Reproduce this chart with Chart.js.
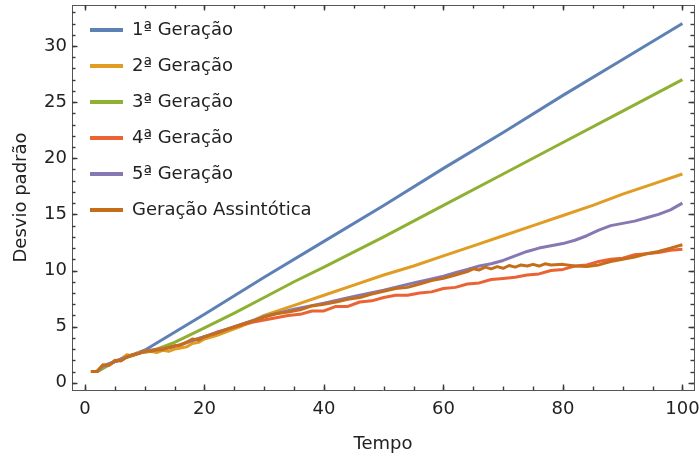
<!DOCTYPE html>
<html>
<head>
<meta charset="utf-8">
<script src="https://cdn.jsdelivr.net/npm/chart.js@4"></script>
<style>
  body { margin: 0; background: #fff; }
  #wrap { width: 699px; height: 460px; }
</style>
</head>
<body>
<div id="wrap"><canvas id="chart"></canvas></div>
<script>
// data
const nomes = ["1ª Geração", "2ª Geração", "3ª Geração", "4ª Geração", "5ª Geração", "Geração Assintótica"];
const cores = ["#5E81B5", "#E19C24", "#8FB032", "#EB6235", "#8778B3", "#C56E1A"];

const tempo1 = [1, 2, 5, 10, 15, 20, 30, 40, 50, 60, 70, 80, 90, 100];
const desvio1 = [1.0, 1.0, 1.9, 2.9, 4.5, 6.1, 9.4, 12.6, 15.8, 19.1, 22.3, 25.6, 28.8, 32.0];

const tempo2 = [1, 2, 3, 4, 5, 6, 7, 8, 9, 10, 11, 12, 13, 14, 15, 16, 17, 18, 19, 20,
  22, 24, 26, 28, 30, 35, 40, 45, 50, 55, 60, 65, 70, 75, 80, 85, 90, 95, 100];
const desvio2 = [1.0, 1.0, 1.5, 1.6, 1.9, 2.1, 2.5, 2.4, 2.7, 2.7, 2.8, 2.7, 2.9, 2.8, 3.0, 3.1, 3.2, 3.5, 3.6, 3.9,
  4.2, 4.6, 5.0, 5.5, 6.0, 6.9, 7.8, 8.7, 9.6, 10.4, 11.3, 12.2, 13.1, 14.0, 14.9, 15.8, 16.8, 17.7, 18.6];

const tempo3 = [1, 2, 5, 10, 12, 15, 20, 25, 30, 35, 40, 50, 60, 70, 80, 90, 100];
const desvio3 = [1.0, 1.0, 1.9, 2.8, 3.0, 3.6, 4.9, 6.2, 7.6, 9.0, 10.3, 13.0, 15.8, 18.6, 21.4, 24.2, 27.0];

const tempo4 = [1, 2, 3, 4, 5, 6, 7, 8, 9, 10, 12, 14, 16, 18, 20, 22, 24, 26, 28, 30,
  32, 34, 36, 38, 40, 42, 44, 46, 48, 50, 52, 54, 56, 58, 60, 62, 64, 66, 68, 70,
  72, 74, 76, 78, 80, 82, 84, 86, 88, 90, 92, 94, 96, 98, 100];
const desvio4 = [1.0, 1.0, 1.5, 1.6, 1.9, 2.0, 2.3, 2.5, 2.6, 2.8, 3.0, 3.1, 3.4, 3.8, 4.1, 4.5, 4.8, 5.1, 5.4, 5.6,
  5.8, 6.0, 6.1, 6.4, 6.4, 6.8, 6.8, 7.2, 7.3, 7.6, 7.8, 7.8, 8.0, 8.1, 8.4, 8.5, 8.8, 8.9, 9.2, 9.3,
  9.4, 9.6, 9.7, 10.0, 10.1, 10.4, 10.5, 10.8, 11.0, 11.1, 11.4, 11.5, 11.6, 11.8, 11.9];

const tempo5 = [1, 2, 3, 5, 7, 10, 13, 16, 20, 25, 30, 35, 40, 45, 50, 55,
  58, 60, 62, 64, 66, 68, 70, 72, 74, 76, 78, 80, 82, 84, 86, 88, 90, 92, 94, 96, 98, 100];
const desvio5 = [1.0, 1.0, 1.5, 1.9, 2.3, 2.8, 3.0, 3.4, 4.1, 5.0, 5.9, 6.55, 7.1, 7.7, 8.25, 8.9,
  9.25, 9.5, 9.8, 10.1, 10.4, 10.6, 10.9, 11.3, 11.7, 12.0, 12.2, 12.4, 12.7, 13.1, 13.6, 14.0, 14.2, 14.4, 14.7, 15.0, 15.4, 16.0];

const tempo6 = [1, 2, 3, 4, 5, 6, 7, 8, 9, 10, 11, 12, 13, 14, 15, 16, 17, 18, 19, 20,
  22, 24, 26, 28, 30, 32, 34, 36, 38, 40, 42, 44, 46, 48, 50, 52, 54, 56, 58, 60, 62, 64,
  65, 66, 67, 68, 69, 70, 71, 72, 73, 74, 75, 76, 77, 78,
  80, 82, 84, 86, 88, 90, 92, 94, 96, 98, 100];
const desvio6 = [1.0, 1.0, 1.6, 1.55, 2.0, 1.95, 2.3, 2.5, 2.6, 2.85, 2.8, 2.95, 2.95, 3.15, 3.3, 3.35, 3.6, 3.9, 3.8, 4.1,
  4.4, 4.8, 5.15, 5.5, 5.85, 6.15, 6.3, 6.5, 6.85, 7.0, 7.2, 7.45, 7.6, 7.9, 8.15, 8.4, 8.5, 8.8, 9.1, 9.3, 9.6, 9.9,
  10.15, 10.05, 10.3, 10.15, 10.35, 10.2, 10.45, 10.3, 10.5, 10.4, 10.55, 10.4, 10.6, 10.5,
  10.55, 10.4, 10.35, 10.5, 10.8, 11.0, 11.2, 11.5, 11.7, 12.0, 12.3];

const tempos = [tempo1, tempo2, tempo3, tempo4, tempo5, tempo6];
const desvios = [desvio1, desvio2, desvio3, desvio4, desvio5, desvio6];

const X_MIN = -2.17, X_MAX = 101.94;
const Y_MIN = -0.64, Y_MAX = 33.65;
const X_MAJOR = 20, X_MINOR = 5, Y_MAJOR = 5, Y_MINOR = 1;

const FRAME = "#555";
const TICK = "#3a3a3a";
const TEXT = "#222";
const FONT = { family: "'DejaVu Sans', sans-serif", size: 18 };

Chart.defaults.font.family = FONT.family;
Chart.defaults.font.size = FONT.size;

const datasets = nomes.map((nome, i) => ({
  label: nome,
  data: tempos[i].map((t, j) => ({ x: t, y: desvios[i][j] })),
  borderColor: cores[i],
  backgroundColor: cores[i],
  borderWidth: 3,
  borderJoinStyle: "round",
  pointRadius: 0,
  tension: 0,
  order: nomes.length - i,
}));

// fixed box size, and no extra margin asked for by half-labels
function fixSize(size) {
  return (s) => {
    if (s.isHorizontal()) s.height = size; else s.width = size;
    s.paddingLeft = s.paddingRight = s.paddingTop = s.paddingBottom = 0;
  };
}

// helper axis: gives tick values for the minor ticks, or a frame edge
function axis(position, min, max, step, opts) {
  return Object.assign({
    type: "linear",
    position,
    min,
    max,
    weight: 0,
    afterFit: fixSize(0),
    border: { display: false },
    grid: { display: false, drawTicks: false },
    ticks: { display: false, stepSize: step, includeBounds: false, autoSkip: false },
  }, opts || {});
}

// inward tick marks on all four sides, placed with the scales' own ticks
function drawFrameTicks(chart) {
  const ctx = chart.ctx;
  const a = chart.chartArea;
  const sc = chart.scales;
  const line = (x1, y1, x2, y2) => {
    ctx.beginPath();
    ctx.moveTo(x1, y1);
    ctx.lineTo(x2, y2);
    ctx.stroke();
  };
  ctx.save();
  ctx.strokeStyle = TICK;
  ctx.lineWidth = 1.4;
  [[sc.x, 5.5], [sc.xMinor, 3.5]].forEach(([s, len]) => {
    s.ticks.forEach((t) => {
      const p = Math.round(s.getPixelForValue(t.value)) + 0.5;
      line(p, a.bottom, p, a.bottom - len);
      line(p, a.top, p, a.top + len);
    });
  });
  [[sc.y, 5.5], [sc.yMinor, 3.5]].forEach(([s, len]) => {
    s.ticks.forEach((t) => {
      const p = Math.round(s.getPixelForValue(t.value)) + 0.5;
      line(a.left, p, a.left + len, p);
      line(a.right, p, a.right - len, p);
    });
  });
  ctx.restore();
}

new Chart(document.getElementById("chart"), {
  type: "line",
  data: { datasets },
  plugins: [
    { id: "frameTicks", afterDraw: drawFrameTicks },
    { id: "moveLegend", afterLayout(chart) { chart.legend.top += 3; chart.legend.bottom += 3; } },
  ],
  options: {
    responsive: true,
    maintainAspectRatio: false,
    animation: false,
    layout: { padding: { top: 5, right: 5, left: 0, bottom: 0 } },
    scales: {
      x: axis("bottom", X_MIN, X_MAX, X_MAJOR, {
        weight: 1,
        afterFit: fixSize(70),
        border: { display: true, color: FRAME, width: 1 },
        ticks: { stepSize: X_MAJOR, includeBounds: false, autoSkip: false, maxRotation: 0, padding: 9, color: TEXT, font: FONT },
        title: { display: true, text: "Tempo", color: TEXT, font: FONT, padding: { top: 0, bottom: 5 } },
      }),
      xMinor: axis("bottom", X_MIN, X_MAX, X_MINOR),
      xTop: axis("top", X_MIN, X_MAX, X_MAJOR, { weight: 1, border: { display: true, color: FRAME, width: 1 } }),
      y: axis("left", Y_MIN, Y_MAX, Y_MAJOR, {
        weight: 1,
        afterFit: fixSize(72),
        border: { display: true, color: FRAME, width: 1 },
        ticks: { stepSize: Y_MAJOR, includeBounds: false, autoSkip: false, padding: 5, color: TEXT, font: FONT },
        title: { display: true, text: "Desvio padrão", color: TEXT, font: FONT, padding: { top: 11, bottom: 0 } },
      }),
      yMinor: axis("left", Y_MIN, Y_MAX, Y_MINOR),
      yRight: axis("right", Y_MIN, Y_MAX, Y_MAJOR, { weight: 1, border: { display: true, color: FRAME, width: 1 } }),
    },
    plugins: {
      tooltip: { enabled: false },
      legend: {
        position: "chartArea",
        align: "start",
        labels: {
          color: TEXT,
          font: FONT,
          padding: 18,
          usePointStyle: true,
          pointStyle: "line",
          pointStyleWidth: 33,
          generateLabels: (chart) =>
            Chart.defaults.plugins.legend.labels.generateLabels(chart).map((it) => Object.assign(it, { lineWidth: 4 })),
          sort: (a, b) => a.datasetIndex - b.datasetIndex,
        },
      },
    },
  },
});
</script>
</body>
</html>
